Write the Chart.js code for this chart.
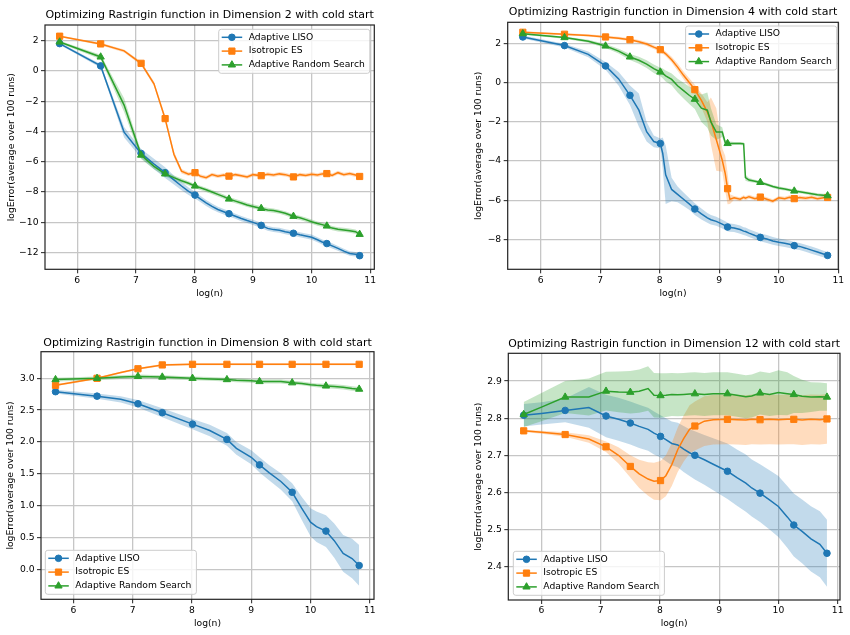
<!DOCTYPE html>
<html>
<head>
<meta charset="utf-8">
<script src="https://cdn.jsdelivr.net/npm/chart.js@4.4.1/dist/chart.umd.min.js"></script>
<style>
  body { margin: 0; background: #fff; width: 850px; height: 635px; position: relative; overflow: hidden; }
  canvas { position: absolute; }
</style>
</head>
<body>
<canvas id="c2" width="425" height="310" style="left:0;top:0"></canvas>
<canvas id="c4" width="425" height="310" style="left:425px;top:0"></canvas>
<canvas id="c8" width="425" height="325" style="left:0;top:310px"></canvas>
<canvas id="c12" width="425" height="325" style="left:425px;top:310px"></canvas>
<script>
// series names, marker positions and ticks shared by all panels
const methods = ['Adaptive LISO', 'Isotropic ES', 'Adaptive Random Search'];
const markerX = [5.70, 6.40, 7.09, 7.50, 8.01, 8.59, 9.14, 9.69, 10.26, 10.82];
const xTicks = [6, 7, 8, 9, 10, 11];
const xTickLabels = ['6', '7', '8', '9', '10', '11'];

// Dimension 2
const d2X = [5.70, 6.40, 6.80, 7.09, 7.31, 7.50, 7.65, 7.78, 7.90, 8.01, 8.10, 8.20, 8.30, 8.40, 8.50, 8.59, 8.70, 8.80, 8.90, 9.00,
             9.14, 9.25, 9.35, 9.45, 9.55, 9.69, 9.80, 9.90, 10.00, 10.10, 10.18, 10.26, 10.35, 10.45, 10.55, 10.65, 10.75, 10.82];
const d2Liso = [1.80, 0.33, -4.05, -5.45, -6.15, -6.72, -7.20, -7.60, -7.95, -8.20, -8.45, -8.72, -8.95, -9.15, -9.30, -9.43, -9.60, -9.75, -9.88, -10.00,
                -10.20, -10.40, -10.48, -10.52, -10.62, -10.72, -10.82, -10.90, -10.98, -11.15, -11.30, -11.40, -11.55, -11.72, -11.90, -12.05, -12.10, -12.20];
const d2LisoStd = [0.08, 0.12, 0.35, 0.30, 0.35, 0.35, 0.30, 0.28, 0.25, 0.22, 0.20, 0.20, 0.20, 0.18, 0.18, 0.18, 0.17, 0.17, 0.17, 0.17,
                   0.17, 0.16, 0.16, 0.16, 0.16, 0.16, 0.16, 0.16, 0.17, 0.17, 0.17, 0.17, 0.17, 0.16, 0.16, 0.15, 0.15, 0.15];
const d2Iso = [2.29, 1.78, 1.32, 0.50, -0.85, -3.15, -5.50, -6.62, -6.82, -6.72, -6.95, -7.05, -6.85, -6.95, -6.88, -6.95, -6.85, -6.92, -7.00, -6.85,
               -6.92, -6.82, -6.88, -6.80, -6.85, -7.00, -6.85, -6.90, -6.82, -6.88, -6.80, -6.78, -6.90, -6.72, -6.85, -6.78, -6.88, -6.97];
const d2IsoStd = [0.05, 0.08, 0.10, 0.12, 0.15, 0.20, 0.20, 0.15, 0.12, 0.12, 0.12, 0.12, 0.12, 0.12, 0.12, 0.12, 0.12, 0.12, 0.12, 0.12,
                  0.12, 0.12, 0.12, 0.12, 0.12, 0.12, 0.12, 0.12, 0.12, 0.12, 0.12, 0.12, 0.12, 0.12, 0.12, 0.12, 0.12, 0.12];
const d2Ars = [1.91, 0.92, -2.26, -5.56, -6.30, -6.80, -7.05, -7.25, -7.42, -7.60, -7.72, -7.85, -8.00, -8.15, -8.30, -8.46, -8.60, -8.72, -8.85, -8.95,
               -9.08, -9.18, -9.22, -9.30, -9.40, -9.60, -9.70, -9.82, -9.96, -10.08, -10.15, -10.24, -10.38, -10.46, -10.50, -10.55, -10.62, -10.79];
const d2ArsStd = [0.08, 0.15, 0.45, 0.25, 0.20, 0.18, 0.15, 0.14, 0.14, 0.14, 0.14, 0.14, 0.14, 0.14, 0.14, 0.14, 0.14, 0.14, 0.14, 0.14,
                  0.14, 0.14, 0.14, 0.14, 0.14, 0.14, 0.14, 0.14, 0.14, 0.14, 0.14, 0.14, 0.14, 0.14, 0.14, 0.14, 0.14, 0.14];
const d2YTicks = [-12, -10, -8, -6, -4, -2, 0, 2];
const d2YLabels = ['\u221212', '\u221210', '\u22128', '\u22126', '\u22124', '\u22122', '0', '2'];

// Dimension 4
const d4X = [5.70, 6.40, 6.80, 7.09, 7.31, 7.50, 7.65, 7.78, 7.90, 8.01, 8.05, 8.10, 8.20, 8.30, 8.40, 8.50, 8.59, 8.70, 8.80, 8.86,
             8.95, 9.05, 9.10, 9.14, 9.18, 9.25, 9.35, 9.41, 9.44, 9.50, 9.60, 9.69, 9.80, 9.90, 10.00, 10.10, 10.18, 10.26, 10.35, 10.45,
             10.55, 10.65, 10.75, 10.82];
const d4Liso = [2.34, 1.90, 1.45, 0.86, 0.20, -0.64, -1.40, -2.50, -3.00, -3.10, -3.60, -4.70, -5.45, -5.70, -5.95, -6.20, -6.45, -6.70, -6.90, -7.00,
                -7.08, -7.22, -7.30, -7.37, -7.40, -7.42, -7.50, -7.58, -7.60, -7.68, -7.80, -7.90, -7.98, -8.08, -8.15, -8.20, -8.25, -8.32, -8.36, -8.45,
                -8.55, -8.65, -8.75, -8.82];
const d4LisoStd = [0.08, 0.10, 0.15, 0.20, 0.35, 0.50, 0.85, 0.50, 0.30, 0.25, 0.80, 1.50, 0.60, 0.40, 0.35, 0.30, 0.30, 0.28, 0.25, 0.24,
                   0.23, 0.22, 0.22, 0.22, 0.21, 0.21, 0.21, 0.20, 0.20, 0.20, 0.20, 0.20, 0.20, 0.20, 0.19, 0.19, 0.19, 0.18, 0.18, 0.18,
                   0.18, 0.18, 0.17, 0.17];
const d4Iso = [2.58, 2.48, 2.42, 2.34, 2.28, 2.20, 2.10, 1.98, 1.82, 1.69, 1.60, 1.48, 1.18, 0.80, 0.38, 0.00, -0.35, -0.90, -1.50, -1.95,
               -2.90, -3.95, -4.63, -5.41, -5.95, -5.88, -5.95, -5.85, -5.90, -5.82, -5.92, -5.84, -5.95, -6.05, -5.88, -5.92, -5.85, -5.92, -5.86, -5.90,
               -5.85, -5.92, -5.87, -5.86];
const d4IsoStd = [0.05, 0.05, 0.06, 0.06, 0.07, 0.08, 0.08, 0.10, 0.10, 0.10, 0.12, 0.12, 0.15, 0.18, 0.20, 0.22, 0.25, 0.35, 0.50, 1.20,
                  1.60, 0.60, 0.90, 0.80, 0.25, 0.10, 0.10, 0.10, 0.10, 0.10, 0.10, 0.10, 0.10, 0.10, 0.10, 0.10, 0.10, 0.10, 0.10, 0.10,
                  0.10, 0.10, 0.10, 0.10];
const d4Ars = [2.51, 2.31, 2.12, 1.88, 1.62, 1.32, 1.15, 0.95, 0.72, 0.55, 0.48, 0.35, 0.17, -0.15, -0.40, -0.65, -0.84, -1.30, -1.40, -2.00,
               -2.52, -2.52, -3.05, -3.10, -3.10, -3.10, -3.10, -3.12, -4.85, -4.97, -5.03, -5.09, -5.20, -5.30, -5.38, -5.43, -5.48, -5.53, -5.57, -5.62,
               -5.67, -5.72, -5.75, -5.77];
const d4ArsStd = [0.05, 0.06, 0.08, 0.10, 0.12, 0.15, 0.18, 0.20, 0.22, 0.22, 0.25, 0.28, 0.30, 0.35, 0.40, 0.45, 0.50, 0.70, 0.90, 0.70,
                  0.40, 0.25, 0.15, 0.10, 0.10, 0.08, 0.08, 0.08, 0.15, 0.10, 0.08, 0.08, 0.08, 0.08, 0.08, 0.08, 0.08, 0.08, 0.08, 0.08,
                  0.08, 0.08, 0.08, 0.08];
const d4YTicks = [-8, -6, -4, -2, 0, 2];
const d4YLabels = ['\u22128', '\u22126', '\u22124', '\u22122', '0', '2'];

// Dimension 8
const d8X = [5.70, 6.40, 6.80, 7.09, 7.50, 8.01, 8.30, 8.59, 8.75, 9.00, 9.14, 9.30, 9.50, 9.69, 9.85, 10.00, 10.10, 10.26, 10.40, 10.55, 10.70, 10.82];
const d8Liso = [2.79, 2.72, 2.67, 2.60, 2.46, 2.28, 2.18, 2.04, 1.90, 1.76, 1.64, 1.52, 1.38, 1.21, 0.96, 0.74, 0.67, 0.60, 0.45, 0.25, 0.17, 0.06];
const d8LisoStd = [0.03, 0.04, 0.05, 0.06, 0.07, 0.08, 0.09, 0.10, 0.10, 0.11, 0.12, 0.12, 0.13, 0.14, 0.18, 0.22, 0.24, 0.25, 0.27, 0.29, 0.31, 0.32];
const d8Iso = [2.89, 3.00, 3.09, 3.15, 3.21, 3.22, 3.22, 3.22, 3.22, 3.22, 3.22, 3.22, 3.22, 3.22, 3.22, 3.22, 3.22, 3.22, 3.22, 3.22, 3.22, 3.22];
const d8IsoStd = [0.015, 0.015, 0.015, 0.015, 0.015, 0.015, 0.015, 0.015, 0.015, 0.015, 0.015, 0.015, 0.015, 0.015, 0.015, 0.015, 0.015, 0.015, 0.015, 0.015, 0.015, 0.015];
const d8Ars = [2.98, 3.00, 3.02, 3.03, 3.02, 3.00, 2.99, 2.98, 2.97, 2.96, 2.95, 2.95, 2.95, 2.93, 2.92, 2.90, 2.89, 2.88, 2.87, 2.86, 2.84, 2.83];
const d8ArsStd = [0.03, 0.03, 0.03, 0.03, 0.03, 0.03, 0.03, 0.03, 0.03, 0.03, 0.03, 0.03, 0.03, 0.03, 0.03, 0.03, 0.03, 0.035, 0.035, 0.035, 0.035, 0.035];
const d8YTicks = [0, 0.5, 1, 1.5, 2, 2.5, 3];
const d8YLabels = ['0.0', '0.5', '1.0', '1.5', '2.0', '2.5', '3.0'];

// Dimension 12
const d12X = [5.70, 6.00, 6.40, 6.80, 7.09, 7.30, 7.50, 7.65, 7.80, 7.90, 8.01, 8.10, 8.20, 8.30, 8.40, 8.50, 8.59, 8.75, 8.90, 9.14,
              9.30, 9.45, 9.55, 9.69, 9.85, 10.00, 10.15, 10.26, 10.40, 10.55, 10.70, 10.82];
const d12Liso = [2.808, 2.813, 2.821, 2.829, 2.806, 2.797, 2.787, 2.778, 2.770, 2.760, 2.751, 2.742, 2.732, 2.728, 2.717, 2.707, 2.700, 2.688, 2.676, 2.657,
                 2.640, 2.625, 2.612, 2.598, 2.580, 2.562, 2.534, 2.512, 2.495, 2.475, 2.460, 2.436];
const d12LisoStd = [0.030, 0.030, 0.032, 0.055, 0.057, 0.058, 0.058, 0.058, 0.058, 0.058, 0.057, 0.058, 0.059, 0.060, 0.062, 0.063, 0.065, 0.067, 0.070, 0.075,
                    0.076, 0.077, 0.077, 0.078, 0.080, 0.082, 0.083, 0.085, 0.086, 0.088, 0.089, 0.090];
const d12Iso = [2.766, 2.762, 2.756, 2.744, 2.723, 2.700, 2.670, 2.650, 2.636, 2.630, 2.632, 2.645, 2.675, 2.715, 2.745, 2.770, 2.779, 2.792, 2.796, 2.797,
                2.796, 2.795, 2.797, 2.796, 2.797, 2.796, 2.797, 2.797, 2.795, 2.797, 2.796, 2.798];
const d12IsoStd = [0.003, 0.004, 0.006, 0.010, 0.014, 0.022, 0.030, 0.038, 0.045, 0.050, 0.053, 0.055, 0.058, 0.060, 0.062, 0.065, 0.066, 0.067, 0.067, 0.067,
                   0.067, 0.067, 0.067, 0.067, 0.067, 0.067, 0.067, 0.067, 0.067, 0.067, 0.067, 0.067];
const d12Ars = [2.810, 2.830, 2.857, 2.857, 2.873, 2.871, 2.870, 2.873, 2.880, 2.862, 2.861, 2.862, 2.864, 2.863, 2.864, 2.865, 2.866, 2.864, 2.866, 2.866,
                2.862, 2.858, 2.860, 2.868, 2.864, 2.869, 2.866, 2.864, 2.859, 2.857, 2.858, 2.857];
const d12ArsStd = [0.034, 0.038, 0.043, 0.050, 0.052, 0.055, 0.057, 0.058, 0.060, 0.060, 0.060, 0.059, 0.058, 0.058, 0.058, 0.058, 0.058, 0.058, 0.058, 0.058,
                   0.058, 0.058, 0.058, 0.058, 0.058, 0.060, 0.058, 0.050, 0.045, 0.040, 0.038, 0.037];
const d12YTicks = [2.4, 2.5, 2.6, 2.7, 2.8, 2.9];
const d12YLabels = ['2.4', '2.5', '2.6', '2.7', '2.8', '2.9'];

// look
const colors = ['#1f77b4', '#ff7f0e', '#2ca02c'];
const bandColors = ['rgba(31,119,180,0.27)', 'rgba(255,127,14,0.27)', 'rgba(44,160,44,0.27)'];
const markers = ['circle', 'rect', 'triangle'];
const markerSize = [3.3, 4.4, 4.2];
const FONT = '"DejaVu Sans", sans-serif';

Chart.defaults.font.family = FONT;
Chart.defaults.color = '#000';

const frame = {
    id: 'frame',
    afterDatasetsDraw(chart) {
        const {ctx, chartArea: a} = chart;
        ctx.save();
        ctx.strokeStyle = '#222';
        ctx.lineWidth = 1.2;
        ctx.strokeRect(a.left, a.top, a.right - a.left, a.bottom - a.top);
        ctx.restore();
    }
};

function boxLegend(place) {
    return {
        id: 'boxLegend',
        afterDraw(chart) {
            const {ctx, chartArea: a} = chart;
            const items = chart.data.datasets.filter(d => d.isMain);
            ctx.save();
            ctx.font = '9.2px ' + FONT;
            const textW = Math.max(...items.map(d => ctx.measureText(d.label).width));
            const w = 30 + textW + 5;
            const h = 44;
            const x0 = place.corner === 'ne' ? a.right - place.dx - w : a.left + place.dx;
            const y0 = place.corner === 'ne' ? a.top + place.dy : a.bottom - place.dy - h;
            ctx.beginPath();
            ctx.roundRect(x0, y0, w, h, 2.5);
            ctx.fillStyle = 'rgba(255,255,255,0.8)';
            ctx.fill();
            ctx.strokeStyle = '#cccccc';
            ctx.lineWidth = 1;
            ctx.stroke();
            items.forEach((d, k) => {
                const cy = y0 + 8 + k * 13.8;
                ctx.strokeStyle = d.borderColor;
                ctx.fillStyle = d.borderColor;
                ctx.lineWidth = 1.5;
                ctx.beginPath();
                ctx.moveTo(x0 + 3, cy);
                ctx.lineTo(x0 + 23.5, cy);
                ctx.stroke();
                ctx.lineWidth = 1;
                Chart.helpers.drawPoint(ctx, {pointStyle: d.pointStyle, radius: d.legendRadius, rotation: 0, borderWidth: 1}, x0 + 13.2, cy);
                ctx.fillStyle = '#000';
                ctx.textBaseline = 'middle';
                ctx.textAlign = 'left';
                ctx.fillText(d.label, x0 + 30, cy);
            });
            ctx.restore();
        }
    };
}

function makePanel(p) {
    const datasets = [];
    p.means.forEach((mean, i) => {
        datasets.push({
            label: methods[i],
            isMain: true,
            legendRadius: markerSize[i],
            data: p.xs.map((x, j) => ({x: x, y: mean[j]})),
            borderColor: colors[i],
            backgroundColor: colors[i],
            borderWidth: 1.5,
            pointStyle: markers[i],
            pointRadius: p.xs.map(x => markerX.includes(x) ? markerSize[i] : 0),
            pointBorderWidth: 1,
            pointHoverRadius: 0,
            fill: false,
            tension: 0,
            order: 3 - i
        });
    });
    p.means.forEach((mean, i) => {
        const std = p.stds[i];
        datasets.push({
            label: methods[i] + ' upper',
            data: p.xs.map((x, j) => ({x: x, y: mean[j] + std[j]})),
            borderColor: 'rgba(0,0,0,0)',
            borderWidth: 0,
            pointRadius: 0,
            backgroundColor: bandColors[i],
            fill: '+1',
            tension: 0,
            order: 3 - i
        });
        datasets.push({
            label: methods[i] + ' lower',
            data: p.xs.map((x, j) => ({x: x, y: mean[j] - std[j]})),
            borderColor: 'rgba(0,0,0,0)',
            borderWidth: 0,
            pointRadius: 0,
            fill: false,
            tension: 0,
            order: 3 - i
        });
    });

    new Chart(document.getElementById(p.id), {
        type: 'line',
        data: {datasets: datasets},
        options: {
            responsive: false,
            animation: false,
            events: [],
            layout: {padding: {left: 0, right: p.padRight, top: 0, bottom: 0}},
            plugins: {
                legend: {display: false},
                tooltip: {enabled: false},
                filler: {drawTime: 'beforeDatasetsDraw'},
                title: {
                    display: true,
                    text: p.title,
                    fullSize: false,
                    color: '#000',
                    font: {size: 11, weight: 'normal'},
                    padding: {top: p.titleTop, bottom: p.titleBottom}
                }
            },
            scales: {
                x: {
                    type: 'linear',
                    min: p.xMin,
                    max: p.xMax,
                    afterFit: s => { s.height = p.xHeight; },
                    afterBuildTicks: s => { s.ticks = xTicks.map(v => ({value: v})); },
                    ticks: {
                        autoSkip: false, maxRotation: 0, padding: 1.5,
                        font: {size: 9.2}, color: '#000',
                        callback: (v, k) => xTickLabels[k]
                    },
                    grid: {color: '#c6c6c6', lineWidth: 1.3, tickLength: 4, tickColor: '#222', tickWidth: 1},
                    border: {display: false},
                    title: {display: true, text: 'log(n)', font: {size: 9.2}, color: '#000', padding: {top: 0, bottom: p.xTitleBottom}}
                },
                y: {
                    type: 'linear',
                    min: p.yMin,
                    max: p.yMax,
                    afterFit: s => { s.width = p.yWidth; },
                    afterBuildTicks: s => { s.ticks = p.yTicks.map(v => ({value: v})); },
                    ticks: {
                        autoSkip: false, padding: 2.5,
                        font: {size: 9.2}, color: '#000',
                        callback: (v, k) => p.yLabels[k]
                    },
                    grid: {color: '#c6c6c6', lineWidth: 1.3, tickLength: 4, tickColor: '#222', tickWidth: 1},
                    border: {display: false},
                    title: {display: true, text: 'logError(average over 100 runs)', font: {size: 9.2}, color: '#000', padding: {top: p.yTitleLeft, bottom: 0}}
                }
            }
        },
        plugins: [frame, boxLegend(p.legend)]
    });
}

makePanel({
    id: 'c2', title: 'Optimizing Rastrigin function in Dimension 2 with cold start',
    xs: d2X, means: [d2Liso, d2Iso, d2Ars], stds: [d2LisoStd, d2IsoStd, d2ArsStd],
    yTicks: d2YTicks, yLabels: d2YLabels,
    xMin: 5.45, xMax: 11.07, yMin: -13.1, yMax: 3.03,
    padRight: 50.7, titleTop: 8.4, titleBottom: 3.4, yWidth: 45, xHeight: 40.7,
    yTitleLeft: 6.2, xTitleBottom: 11.2,
    legend: {corner: 'ne', dx: 4.5, dy: 4.3}
});
makePanel({
    id: 'c4', title: 'Optimizing Rastrigin function in Dimension 4 with cold start',
    xs: d4X, means: [d4Liso, d4Iso, d4Ars], stds: [d4LisoStd, d4IsoStd, d4ArsStd],
    yTicks: d4YTicks, yLabels: d4YLabels,
    xMin: 5.446, xMax: 11.0, yMin: -9.53, yMax: 3.09,
    padRight: 11.7, titleTop: 5.1, titleBottom: 4.0, yWidth: 82.7, xHeight: 40.7,
    yTitleLeft: 47.8, xTitleBottom: 11.2,
    legend: {corner: 'ne', dx: 1.6, dy: 3.7}
});
makePanel({
    id: 'c8', title: 'Optimizing Rastrigin function in Dimension 8 with cold start',
    xs: d8X, means: [d8Liso, d8Iso, d8Ars], stds: [d8LisoStd, d8IsoStd, d8ArsStd],
    yTicks: d8YTicks, yLabels: d8YLabels,
    xMin: 5.455, xMax: 11.07, yMin: -0.471, yMax: 3.418,
    padRight: 51, titleTop: 26.1, titleBottom: 2.4, yWidth: 41, xHeight: 35.7,
    yTitleLeft: 5.5, xTitleBottom: 6.2,
    legend: {corner: 'sw', dx: 4.3, dy: 5}
});
makePanel({
    id: 'c12', title: 'Optimizing Rastrigin function in Dimension 12 with cold start',
    xs: d12X, means: [d12Liso, d12Iso, d12Ars], stds: [d12LisoStd, d12IsoStd, d12ArsStd],
    yTicks: d12YTicks, yLabels: d12YLabels,
    xMin: 5.44, xMax: 11.04, yMin: 2.310, yMax: 2.975,
    padRight: 10, titleTop: 27.4, titleBottom: 2.7, yWidth: 83.3, xHeight: 35,
    yTitleLeft: 48.5, xTitleBottom: 6.2,
    legend: {corner: 'sw', dx: 5, dy: 4.7}
});
</script>
</body>
</html>
